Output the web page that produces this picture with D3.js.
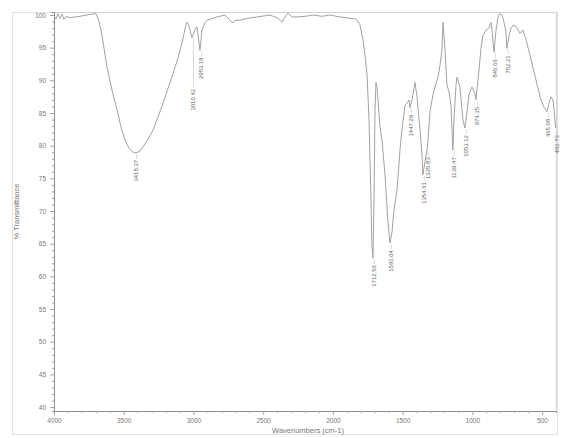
<!DOCTYPE html>
<html>
<head>
<meta charset="utf-8">
<script src="https://cdn.jsdelivr.net/npm/d3@7/dist/d3.min.js"></script>
<style>
  body { margin: 0; background: #fff; }
  svg { display: block; font-family: Arial, "Liberation Sans", sans-serif; }
</style>
</head>
<body>
<svg id="chart" width="573" height="438"></svg>
<script>
// IR spectrum: wavenumber (cm-1) against % transmittance
const wavenumbers = [
  4000, 3986, 3971, 3957, 3943, 3928, 3914, 3885, 3814, 3742, 3699, 3677, 3656, 3620, 3584,
  3548, 3520, 3491, 3462, 3433, 3418.37, 3405, 3383, 3362, 3326, 3290, 3254, 3218, 3182, 3147,
  3111, 3082, 3053, 3046, 3032, 3010.42, 2989, 2975, 2953.18, 2939, 2917, 2903, 2831, 2774, 2745,
  2724, 2695, 2666, 2609, 2544, 2451, 2394, 2365, 2343, 2322, 2293, 2257, 2200, 2143, 2078,
  2021, 1949, 1877, 1834, 1806, 1784, 1770, 1755, 1741, 1727, 1720, 1712.56, 1705, 1698, 1691,
  1684, 1662, 1648, 1626, 1605, 1591.04, 1576, 1562, 1540, 1519, 1505, 1483, 1469, 1454, 1447.29,
  1433, 1418, 1411, 1397, 1375, 1361, 1354.61, 1339, 1325.83, 1318, 1304, 1282, 1268, 1246, 1232,
  1218, 1210, 1196, 1182, 1167, 1153, 1139.47, 1132, 1117, 1110, 1089, 1067, 1053.12, 1038, 1024,
  1003, 981, 974.35, 952, 938, 924, 902, 881, 866, 859, 845.66, 830, 816, 802, 787,
  773, 759, 752.21, 737, 723, 701, 680, 658, 637, 615, 587, 558, 529, 508, 486,
  465.08, 450, 436, 422, 414, 402.73
];
const transmittance = [
  99.9, 99.4, 100.2, 99.5, 100.1, 99.3, 99.8, 99.6, 99.8, 100.1, 100.2, 99.0, 96.9, 92.0, 88.5,
  85.5, 82.9, 80.9, 79.6, 79.0, 78.9, 78.95, 79.2, 79.8, 81.0, 82.4, 84.4, 86.5, 88.8, 91.0,
  93.4, 95.7, 98.6, 98.9, 98.3, 96.5, 97.7, 98.2, 94.6, 97.7, 98.9, 99.2, 99.7, 100.0, 99.4,
  98.8, 99.2, 99.2, 99.5, 99.7, 100.0, 99.5, 98.9, 99.7, 100.3, 99.7, 99.7, 99.8, 100.0, 99.8,
  100.0, 99.7, 99.5, 99.4, 98.5, 96.2, 93.9, 90.8, 83.9, 71.7, 64.8, 62.8, 71.7, 85.5, 89.7,
  89.0, 82.9, 80.9, 75.5, 68.3, 65.1, 66.8, 70.2, 73.2, 79.3, 82.4, 86.2, 86.5, 87.0, 85.8,
  87.0, 88.8, 89.7, 87.5, 82.4, 78.6, 75.5, 77.6, 79.3, 80.8, 85.2, 87.8, 89.0, 90.5, 92.3,
  94.6, 98.9, 94.6, 89.3, 88.2, 86.2, 79.3, 83.9, 89.3, 90.5, 89.0, 83.9, 82.7, 85.2, 87.8,
  89.0, 88.0, 87.0, 91.6, 94.9, 96.9, 97.7, 98.0, 98.9, 97.7, 94.3, 97.7, 99.7, 100.2, 100.0,
  98.9, 97.4, 94.9, 96.8, 98.0, 98.5, 98.0, 97.2, 97.7, 96.2, 93.9, 91.3, 88.8, 87.0, 85.9,
  85.2, 86.5, 87.5, 87.0, 85.5, 82.7
];

// Marked absorption bands (each one is a point of the trace above)
const peakWavenumbers = [
  3418.37, 3010.42, 2953.18, 1712.56, 1591.04, 1447.29, 1354.61, 1325.83,
  1139.47, 1053.12, 974.35, 845.66, 752.21, 465.08, 402.73
];

const xTickValues = [4000, 3500, 3000, 2500, 2000, 1500, 1000, 500];
const yTickValues = [40, 45, 50, 55, 60, 65, 70, 75, 80, 85, 90, 95, 100];
const xTitle = "Wavenumbers (cm-1)";
const yTitle = "% Transmittance";

// ---- layout ----
const plot = { left: 54, right: 556, top: 12, bottom: 411 };
const labelGap = 6;                 // space between a band and its label
const longLeaders = { 3010.42: 50 }; // labels pushed lower to clear a neighbour

const svg = d3.select("#chart");

const x = d3.scaleLinear().domain([4000, 400]).range([plot.left, plot.right]);
const y = d3.scaleLinear().domain([39.4, 100.46]).range([plot.bottom, plot.top]);

// outer border
svg.append("rect")
  .attr("x", 12.5).attr("y", 12.5).attr("width", 545).attr("height", 422)
  .attr("fill", "none").attr("stroke", "#e2e2e2").attr("stroke-width", 1);

// plot frame: light top and right edges
svg.append("path")
  .attr("d", `M${plot.left},${plot.top + 0.5}H${plot.right + 0.5}V${plot.bottom}`)
  .attr("fill", "none").attr("stroke", "#d4d4d4");

// y axis with minor ticks
const yMinor = d3.range(40, 101, 1);
const yAxis = d3.axisLeft(y).tickValues(yMinor).tickSize(2)
  .tickFormat(d => yTickValues.includes(d) ? d : "");
const gy = svg.append("g").attr("transform", `translate(${plot.left},0)`).call(yAxis);
gy.select(".domain").attr("stroke", "#8c8c8c");
gy.selectAll(".tick line").attr("stroke", "#a5a5a5")
  .attr("x2", d => yTickValues.includes(d) ? -4 : -2);
gy.selectAll(".tick text").attr("fill", "#777").attr("font-size", 6.5).attr("x", -8);

// x axis with minor ticks
const xMinor = d3.range(400, 4001, 100);
const xAxis = d3.axisBottom(x).tickValues(xMinor).tickSize(2)
  .tickFormat(d => xTickValues.includes(d) ? d : "");
const gx = svg.append("g").attr("transform", `translate(0,${plot.bottom})`).call(xAxis);
gx.select(".domain").attr("stroke", "#8c8c8c");
gx.selectAll(".tick line").attr("stroke", "#a5a5a5")
  .attr("y2", d => xTickValues.includes(d) ? 4 : 2);
gx.selectAll(".tick text").attr("fill", "#777").attr("font-size", 6.5).attr("y", 7);

// axis titles
svg.append("text")
  .attr("x", (plot.left + plot.right) / 2 + 3).attr("y", 433)
  .attr("text-anchor", "middle").attr("font-size", 7.5).attr("fill", "#777")
  .text(xTitle);
svg.append("text")
  .attr("transform", `translate(19,${(plot.top + plot.bottom) / 2}) rotate(-90)`)
  .attr("text-anchor", "middle").attr("font-size", 7.5).attr("fill", "#777")
  .text(yTitle);

// spectrum trace
const points = wavenumbers.map((w, i) => [w, transmittance[i]]);
const line = d3.line().x(d => x(d[0])).y(d => y(d[1]));
svg.append("path")
  .datum(points)
  .attr("d", line)
  .attr("fill", "none")
  .attr("stroke", "#a2a2a2")
  .attr("stroke-width", 1)
  .attr("stroke-linejoin", "round");

// band labels: vertical text under each marked point, with a short leader
const tAt = w => transmittance[wavenumbers.indexOf(w)];
const labels = svg.append("g");
peakWavenumbers.forEach(w => {
  const px = x(w);
  const py = y(tAt(w));
  const top = py + (longLeaders[w] || labelGap);
  labels.append("line")
    .attr("x1", px + 1.5).attr("x2", px + 1.5)
    .attr("y1", py + 1).attr("y2", top)
    .attr("stroke", "#c4c4c4").attr("stroke-width", 0.6);
  labels.append("text")
    .attr("transform", `translate(${px + 1.5},${top + 1}) rotate(-90)`)
    .attr("text-anchor", "end")
    .attr("dominant-baseline", "middle")
    .attr("font-size", 6)
    .attr("fill", "#666")
    .text(w.toFixed(2));
});
</script>
</body>
</html>
